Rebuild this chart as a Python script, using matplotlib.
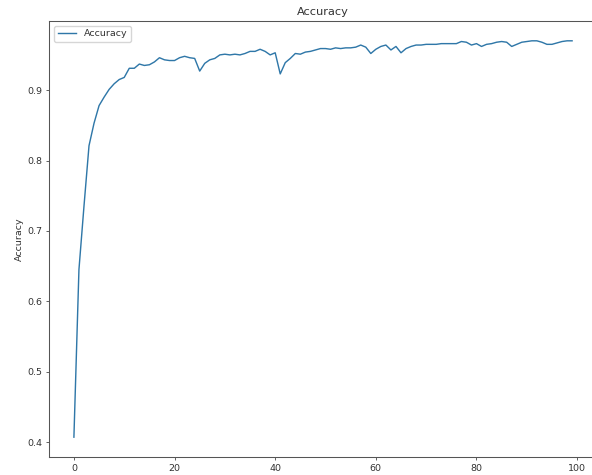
import matplotlib
matplotlib.use("Agg")
import matplotlib.pyplot as plt
import numpy as np

epochs = list(range(100))
accuracy = [
    0.407, 0.645, 0.735, 0.821, 0.853, 0.878, 0.890, 0.901, 0.909, 0.915,
    0.918, 0.931, 0.931, 0.937, 0.935, 0.936, 0.940, 0.946, 0.943, 0.942,
    0.942, 0.946, 0.948, 0.946, 0.945, 0.927, 0.938, 0.943, 0.945, 0.950,
    0.951, 0.950, 0.951, 0.950, 0.952, 0.955, 0.955, 0.958, 0.955, 0.950,
    0.953, 0.923, 0.939, 0.945, 0.952, 0.951, 0.954, 0.955, 0.957, 0.959,
    0.959, 0.958, 0.960, 0.959, 0.960, 0.960, 0.961, 0.964, 0.961, 0.952,
    0.958, 0.962, 0.964, 0.957, 0.962, 0.953, 0.959, 0.962, 0.964, 0.964,
    0.965, 0.965, 0.965, 0.966, 0.966, 0.966, 0.966, 0.969, 0.968, 0.964,
    0.966, 0.962, 0.965, 0.966, 0.968, 0.969, 0.968, 0.962, 0.965, 0.968,
    0.969, 0.970, 0.970, 0.968, 0.965, 0.965, 0.967, 0.969, 0.970, 0.970,
]
title = "Accuracy"
series_label = "Accuracy"
y_label = "Accuracy"

s = 0.68
plt.rcParams.update({
    "font.size": 10 * s,
    "axes.titlesize": 12 * s,
    "axes.linewidth": 0.8 * s * 1.4,
    "xtick.major.width": 0.8 * s,
    "ytick.major.width": 0.8 * s,
    "xtick.major.size": 3.5 * s,
    "ytick.major.size": 3.5 * s,
    "xtick.major.pad": 3.5 * s,
    "ytick.major.pad": 3.5 * s,
    "axes.titlepad": 6 * s,
    "axes.labelpad": 4 * s,
    "axes.edgecolor": "#555555",
    "text.color": "#333333",
    "xtick.color": "#333333",
    "ytick.color": "#333333",
    "axes.labelcolor": "#333333",
})

fig = plt.figure(figsize=(5.92, 4.75), dpi=100)
ax = fig.add_axes([49 / 592, 18 / 475, 548 / 592, 436 / 475])
ax.plot(epochs, accuracy, label=series_label, linewidth=1.5 * s, color="#2f77a8")
ax.set_title(title)
ax.set_ylabel(y_label)
ax.legend(loc="upper left")
fig.savefig("out.png", dpi=100)
